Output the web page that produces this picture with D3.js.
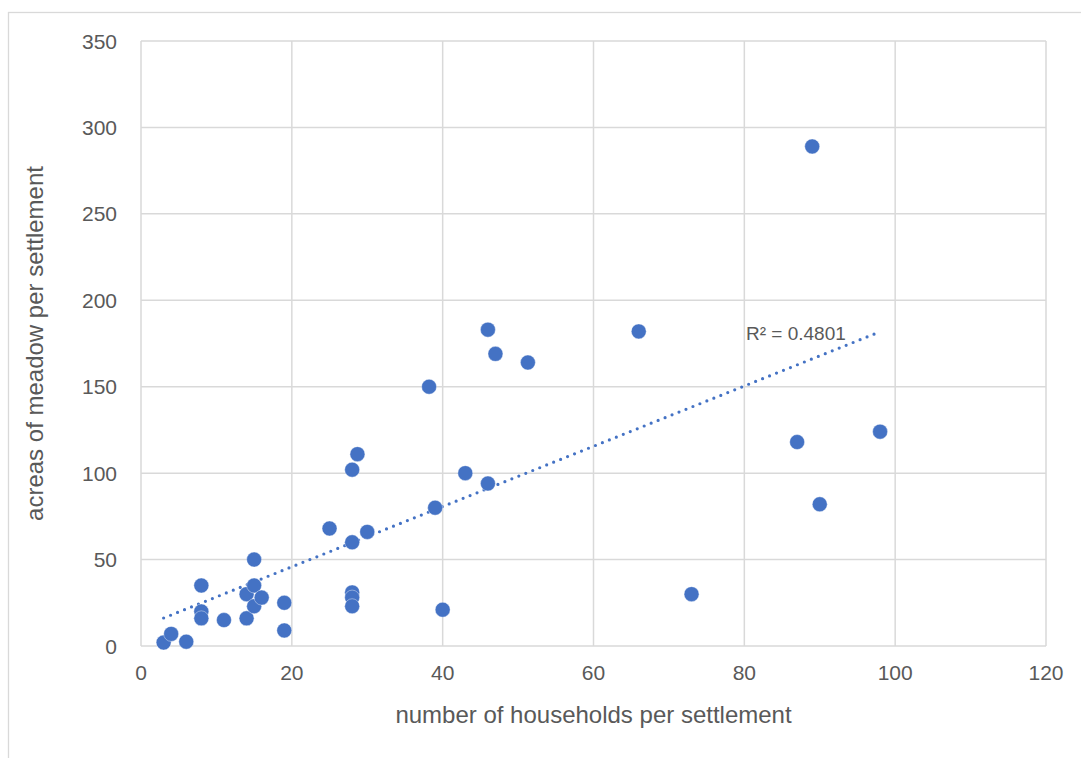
<!DOCTYPE html>
<html>
<head>
  <meta charset="utf-8">
  <title>Meadow vs households</title>
  <script src="https://d3js.org/d3.v7.min.js"></script>
  <style>
    body { margin: 0; background: #fff; overflow: hidden; }
    text { font-family: "Liberation Sans", Arial, sans-serif; fill: #595959; }
  </style>
</head>
<body>
<svg id="chart" width="1081" height="758"></svg>
<script>
  // data
  var households = [3, 4, 6, 8, 8, 8, 11, 14, 14, 15, 15, 15, 16, 19, 19, 25, 28, 28, 28.7, 28, 28, 28,
                    30, 38.2, 39, 40, 43, 46, 46, 47, 51.3, 66, 73, 87, 89, 90, 98];
  var meadow = [2, 7, 2.5, 35, 20, 16, 15, 16, 30, 50, 35, 23, 28, 25, 9, 68, 60, 102, 111, 31, 28, 23,
                66, 150, 80, 21, 100, 94, 183, 169, 164, 182, 30, 118, 289, 82, 124];
  var xTicks = [0, 20, 40, 60, 80, 100, 120];
  var yTicks = [0, 50, 100, 150, 200, 250, 300, 350];
  var xTitle = "number of households per settlement";
  var yTitle = "acreas of meadow per settlement";
  var r2Label = "R\u00b2 = 0.4801";

  var svg = d3.select("#chart");
  var pLeft = 141, pRight = 1046, pTop = 41, pBottom = 646;

  var x = d3.scaleLinear().domain([0, 120]).range([pLeft, pRight]);
  var y = d3.scaleLinear().domain([0, 350]).range([pBottom, pTop]);

  // outer chart frame
  svg.append("rect")
    .attr("x", 8.5).attr("y", 12.5)
    .attr("width", 1100).attr("height", 800)
    .style("fill", "none").style("stroke", "#d9d9d9").style("stroke-width", 1.3);

  // gridlines
  svg.selectAll(".gx").data(xTicks).enter().append("line")
    .attr("x1", function(d) { return x(d); }).attr("x2", function(d) { return x(d); })
    .attr("y1", pTop).attr("y2", pBottom)
    .style("stroke", "#d9d9d9").style("stroke-width", 1.5);
  svg.selectAll(".gy").data(yTicks).enter().append("line")
    .attr("y1", function(d) { return y(d); }).attr("y2", function(d) { return y(d); })
    .attr("x1", pLeft).attr("x2", pRight)
    .style("stroke", "#d9d9d9").style("stroke-width", 1.5);

  // tick labels
  svg.selectAll(".xl").data(xTicks).enter().append("text")
    .attr("x", function(d) { return x(d); })
    .attr("y", pBottom + 34)
    .attr("text-anchor", "middle")
    .style("font-size", "21px")
    .text(function(d) { return d; });
  svg.selectAll(".yl").data(yTicks).enter().append("text")
    .attr("x", pLeft - 24)
    .attr("y", function(d) { return y(d) + 7.5; })
    .attr("text-anchor", "end")
    .style("font-size", "21px")
    .text(function(d) { return d; });

  // axis titles
  svg.append("text")
    .attr("x", (pLeft + pRight) / 2).attr("y", 723)
    .attr("text-anchor", "middle")
    .style("font-size", "24px")
    .text(xTitle);
  svg.append("text")
    .attr("transform", "translate(43," + (pTop + pBottom) / 2 + ") rotate(-90)")
    .attr("text-anchor", "middle")
    .style("font-size", "24px")
    .text(yTitle);

  // linear trendline (least squares)
  var n = households.length;
  var mx = d3.mean(households), my = d3.mean(meadow);
  var sxy = 0, sxx = 0;
  for (var i = 0; i < n; i++) {
    sxy += (households[i] - mx) * (meadow[i] - my);
    sxx += (households[i] - mx) * (households[i] - mx);
  }
  var slope = sxy / sxx, icpt = my - slope * mx;
  var ext = d3.extent(households);
  svg.append("line")
    .attr("x1", x(ext[0])).attr("y1", y(icpt + slope * ext[0]))
    .attr("x2", x(ext[1])).attr("y2", y(icpt + slope * ext[1]))
    .style("stroke", "#4472c4").style("stroke-width", 3.2)
    .style("stroke-linecap", "round").style("stroke-dasharray", "0 7.5");

  // points
  svg.selectAll(".pt").data(households).enter().append("circle")
    .attr("cx", function(d) { return x(d); })
    .attr("cy", function(d, i) { return y(meadow[i]); })
    .attr("r", 7.5)
    .style("fill", "#4472c4")
    .style("stroke", "#ffffff").style("stroke-width", 0.4);

  svg.append("text")
    .attr("x", 746).attr("y", 340)
    .style("font-size", "19px")
    .text(r2Label);
</script>
</body>
</html>
